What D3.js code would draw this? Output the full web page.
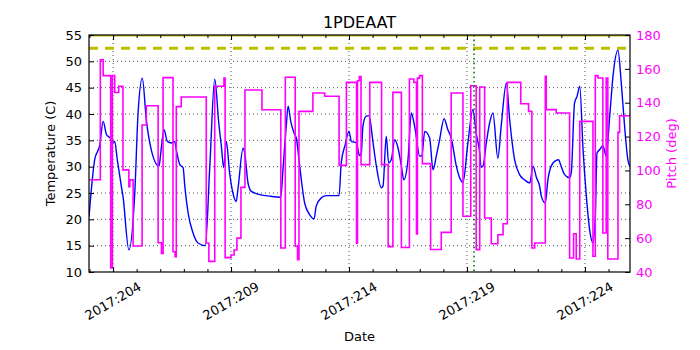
<!DOCTYPE html>
<html>
<head>
<meta charset="utf-8">
<script src="https://cdn.jsdelivr.net/npm/d3@7"></script>
<style>
  body { margin: 0; background: #fff; }
  text { font-family: "DejaVu Sans", sans-serif; }
</style>
</head>
<body>
<svg id="chart" width="700" height="350"></svg>
<script>
// temperature (blue), day of year 2017
const tempDays = [202.98, 203.22, 203.44, 203.58, 203.72, 203.90, 203.96, 204.07, 204.18, 204.35, 204.42, 204.67,
  204.92, 205.06, 205.24, 205.41, 205.62, 205.95, 206.02, 206.16, 206.30, 206.47, 206.61, 206.68, 206.83, 206.97,
  207.04, 207.18, 207.39, 207.60, 207.91, 208.10, 208.31, 208.48, 208.59, 208.69, 208.80, 208.94, 209.08, 209.22,
  209.30, 209.51, 209.58, 209.72, 209.86, 210.14, 210.64, 211.11, 211.20, 211.34, 211.42, 211.53, 211.67, 211.77,
  211.88, 211.98, 212.12, 212.33, 212.52, 212.61, 212.83, 213.04, 213.58, 213.67, 213.84, 214.00, 214.10, 214.31,
  214.45, 214.52, 214.59, 214.73, 214.85, 215.02, 215.16, 215.37, 215.44, 215.58, 215.68, 215.79, 215.94, 216.08,
  216.22, 216.32, 216.50, 216.64, 216.78, 217.00, 217.09, 217.21, 217.42, 217.56, 217.70, 217.84, 218.03, 218.19,
  218.33, 218.55, 218.69, 218.83, 219.04, 219.25, 219.39, 219.54, 219.60, 219.68, 219.82, 219.96, 220.10, 220.31,
  220.45, 220.67, 220.81, 221.02, 221.23, 221.44, 221.66, 221.80, 221.94, 222.08, 222.15, 222.32, 222.43, 222.57,
  222.78, 222.88, 222.99, 223.14, 223.35, 223.42, 223.56, 223.67, 223.78, 223.92, 224.06, 224.20, 224.34, 224.44,
  224.51, 224.62, 224.76, 224.90, 225.05, 225.19, 225.40, 225.54, 225.68, 225.82, 225.91];
const tempValues = [20.5, 31.3, 34.2, 38.6, 36.1, 35.3, 34.5, 34.8, 31.3, 26.3, 24.4, 14.2,
  25.0, 40.2, 46.8, 38.9, 33.2, 30.1, 32.6, 37.0, 34.8, 34.5, 34.8, 33.2, 30.4, 29.8,
  26.3, 21.2, 17.4, 15.5, 15.0, 30.1, 46.6, 38.3, 33.9, 29.8, 34.8, 28.8, 25.0, 23.4,
  26.0, 33.5, 32.6, 26.9, 25.3, 24.8, 24.4, 24.2, 29.4, 37.7, 41.5, 38.6, 36.4, 35.4,
  31.3, 27.5, 23.1, 20.9, 20.1, 22.5, 24.1, 24.5, 24.5, 30.7, 34.2, 36.7, 34.8, 34.5,
  32.1, 32.5, 37.7, 39.6, 39.7, 34.5, 30.1, 26.0, 26.3, 35.8, 30.7, 31.3, 35.1, 33.5,
  30.1, 27.5, 31.3, 40.2, 37.7, 32.0, 32.1, 36.7, 35.4, 29.4, 32.0, 35.1, 39.1, 37.0,
  35.5, 30.1, 27.9, 27.0, 34.5, 40.8, 36.4, 32.6, 29.9, 30.1, 34.5, 38.3, 40.2, 31.6,
  37.7, 45.9, 38.9, 31.3, 28.5, 27.5, 26.9, 30.1, 28.0, 26.3, 24.4, 23.1, 27.5, 30.1,
  31.2, 31.3, 30.1, 28.5, 27.9, 28.8, 42.1, 43.4, 45.3, 33.2, 24.4, 18.0, 15.5, 20.6,
  32.6, 33.2, 34.0, 32.0, 39.6, 47.2, 52.1, 45.9, 37.7, 31.3, 30.0];

// pitch (magenta), step values starting at each day
const pitchDays = [202.98, 203.46, 203.58, 203.90, 203.97, 204.07, 204.24, 204.42, 204.67, 204.71, 204.85, 205.23,
  205.41, 205.91, 206.05, 206.12, 206.54, 206.63, 206.68, 206.89, 207.95, 208.06, 208.31, 208.70, 208.75, 209.00,
  209.13, 209.25, 209.42, 209.59, 210.31, 211.11, 211.30, 211.72, 211.82, 211.88, 212.47, 212.97, 213.58, 213.89,
  214.32, 214.36, 214.44, 214.51, 214.88, 215.38, 215.66, 215.86, 216.22, 216.56, 216.75, 216.86, 216.90, 216.99,
  217.11, 217.46, 217.91, 218.33, 218.83, 219.16, 219.39, 219.54, 219.75, 220.03, 220.31, 220.53, 220.71, 221.28,
  221.61, 221.75, 221.87, 222.32, 222.36, 222.78, 223.35, 223.52, 223.63, 223.78, 224.34, 224.44, 224.55, 224.76,
  224.90, 224.97, 225.40, 225.47, 225.91];
const pitchValues = [94.5, 165.4, 156.0, 42.4, 156.0, 146.0, 149.7, 100.3, 90.4, 94.4, 55.4, 126.8,
  138.2, 57.3, 51.0, 154.8, 52.0, 49.0, 137.7, 143.4, 57.1, 46.3, 149.7, 154.6, 48.5, 50.0,
  53.0, 60.0, 90.0, 147.5, 135.8, 54.2, 155.0, 55.2, 47.3, 134.9, 145.7, 143.8, 103.0, 152.0,
  57.0, 153.0, 155.5, 103.4, 152.0, 103.4, 55.0, 146.1, 54.5, 154.0, 152.0, 62.5, 154.5, 156.0,
  104.0, 53.3, 63.4, 145.7, 72.9, 150.0, 53.2, 149.3, 71.9, 56.7, 62.0, 68.5, 152.0, 139.4,
  134.9, 54.2, 57.1, 155.6, 135.9, 133.9, 48.3, 62.6, 47.7, 129.0, 49.3, 156.0, 154.6, 63.0,
  154.6, 47.7, 122.5, 132.3, 132.3];

const tempTicks = [10, 15, 20, 25, 30, 35, 40, 45, 50, 55];
const pitchTicks = [40, 60, 80, 100, 120, 140, 160, 180];
const majorDays = [204, 209, 214, 219, 224];
const dayLabels = ['2017:204', '2017:209', '2017:214', '2017:219', '2017:224'];
const minorDays = d3.range(203, 226);
const limitTemps = [55, 52.5];
const markerDays = [219.3];

const margin = {left: 89, right: 70, top: 35, bottom: 78};
const width = 700 - margin.left - margin.right;
const height = 350 - margin.top - margin.bottom;

const svg = d3.select('#chart');
svg.append('rect').attr('width', 700).attr('height', 350).attr('fill', '#fff');
const g = svg.append('g').attr('transform', `translate(${margin.left},${margin.top})`);

const x = d3.scaleLinear().domain([202.98, 225.91]).range([0, width]);
const yT = d3.scaleLinear().domain([10, 55]).range([height, 0]);
const yP = d3.scaleLinear().domain([40, 180]).range([height, 0]);

g.append('defs').append('clipPath').attr('id', 'clip')
    .append('rect').attr('width', width).attr('height', height);

// grid
g.selectAll('.hgrid').data(tempTicks.slice(1, -1)).enter().append('line')
    .attr('x1', 0).attr('x2', width)
    .attr('y1', (d) => yT(d)).attr('y2', (d) => yT(d))
    .attr('stroke', '#000').attr('stroke-width', 0.7).attr('stroke-dasharray', '1,3');
g.selectAll('.vgrid').data(majorDays).enter().append('line')
    .attr('x1', (d) => x(d)).attr('x2', (d) => x(d))
    .attr('y1', 0).attr('y2', height)
    .attr('stroke', '#000').attr('stroke-width', 0.7).attr('stroke-dasharray', '1,3');

const plot = g.append('g').attr('clip-path', 'url(#clip)');

// limit lines
plot.append('line')
    .attr('x1', 0).attr('x2', width).attr('y1', yT(limitTemps[0])).attr('y2', yT(limitTemps[0]))
    .attr('stroke', '#bfbf00').attr('stroke-width', 3);
plot.append('line')
    .attr('x1', 0).attr('x2', width).attr('y1', yT(limitTemps[1])).attr('y2', yT(limitTemps[1]))
    .attr('stroke', '#bfbf00').attr('stroke-width', 3).attr('stroke-dasharray', '9,7');

// temperature
const tempLine = d3.line().curve(d3.curveMonotoneX).x((d) => x(d[0])).y((d) => yT(d[1]));
plot.append('path')
    .datum(tempDays.map((d, i) => [d, tempValues[i]]))
    .attr('d', tempLine)
    .attr('fill', 'none').attr('stroke', '#0000ff').attr('stroke-width', 1.4);

// pitch
const pitchLine = d3.line().curve(d3.curveStepAfter).x((d) => x(d[0])).y((d) => yP(d[1]));
plot.append('path')
    .datum(pitchDays.map((d, i) => [d, pitchValues[i]]))
    .attr('d', pitchLine)
    .attr('fill', 'none').attr('stroke', '#ff00ff').attr('stroke-width', 1.6);

// marker
plot.selectAll('.marker').data(markerDays).enter().append('line')
    .attr('x1', (d) => x(d)).attr('x2', (d) => x(d))
    .attr('y1', 0).attr('y2', height)
    .attr('stroke', '#008000').attr('stroke-width', 1.6).attr('stroke-dasharray', '1.6,3');

// axes
const leftAxis = g.append('g')
    .call(d3.axisLeft(yT).tickValues(tempTicks).tickSize(-5).tickPadding(7).tickFormat(d3.format('d')));
leftAxis.select('.domain').remove();
leftAxis.selectAll('text').attr('font-size', 13).attr('fill', '#000');

const rightAxis = g.append('g').attr('transform', `translate(${width},0)`)
    .call(d3.axisRight(yP).tickValues(pitchTicks).tickSize(-5).tickPadding(6).tickFormat(d3.format('d')));
rightAxis.select('.domain').remove();
rightAxis.selectAll('text').attr('font-size', 13).attr('fill', '#ff00ff');

const bottomAxis = g.append('g').attr('transform', `translate(0,${height})`)
    .call(d3.axisBottom(x).tickValues(majorDays).tickSize(-5).tickFormat(''));
bottomAxis.select('.domain').remove();
const bottomMinor = g.append('g').attr('transform', `translate(0,${height})`)
    .call(d3.axisBottom(x).tickValues(minorDays).tickSize(-3).tickFormat(''));
bottomMinor.select('.domain').remove();

const topAxis = g.append('g')
    .call(d3.axisTop(x).tickValues(majorDays).tickSize(-5).tickFormat(''));
topAxis.select('.domain').remove();
const topMinor = g.append('g')
    .call(d3.axisTop(x).tickValues(minorDays).tickSize(-3).tickFormat(''));
topMinor.select('.domain').remove();

g.selectAll('.xlabel').data(majorDays).enter().append('text')
    .attr('transform', (d) => `translate(${x(d)},${height + 29}) rotate(-30)`)
    .attr('text-anchor', 'middle').attr('dominant-baseline', 'central')
    .attr('font-size', 13).attr('fill', '#000')
    .text((d, i) => dayLabels[i]);

// frame
g.append('rect').attr('width', width).attr('height', height)
    .attr('fill', 'none').attr('stroke', '#000').attr('stroke-width', 1.2);

// titles
svg.append('text').attr('x', margin.left + width / 2).attr('y', 28)
    .attr('text-anchor', 'middle').attr('font-size', 16).text('1PDEAAT');
svg.append('text').attr('x', margin.left + width / 2).attr('y', 341)
    .attr('text-anchor', 'middle').attr('font-size', 13).text('Date');
svg.append('text').attr('transform', `translate(55,${margin.top + height / 2}) rotate(-90)`)
    .attr('text-anchor', 'middle').attr('font-size', 13).text('Temperature (C)');
svg.append('text').attr('transform', `translate(676,${margin.top + height / 2}) rotate(-90)`)
    .attr('text-anchor', 'middle').attr('font-size', 13).attr('fill', '#ff00ff').text('Pitch (deg)');
</script>
</body>
</html>
